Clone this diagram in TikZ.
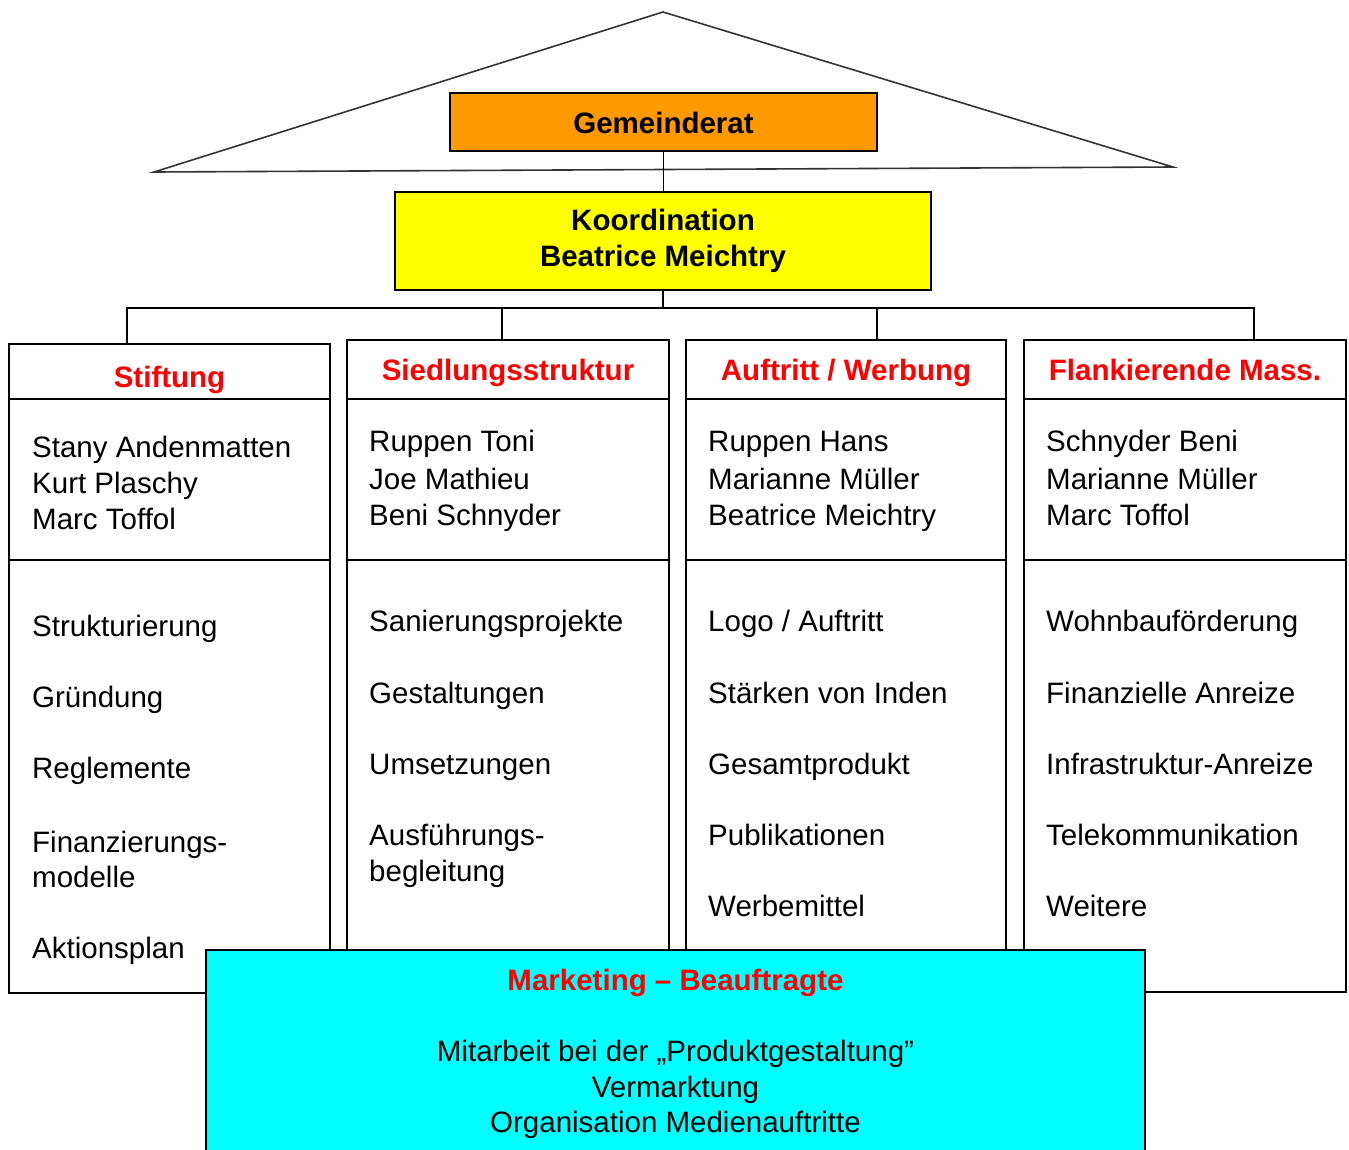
\documentclass[tikz,border=0pt]{standalone}
\usepackage{fontspec}
\setmainfont{Liberation Sans}
\definecolor{gorange}{HTML}{FF9900}
\definecolor{gyellow}{HTML}{FFFF00}
\definecolor{gcyan}{HTML}{00FFFF}
\definecolor{gred}{HTML}{FF0000}
\definecolor{roofgray}{HTML}{333333}
\tikzset{
  box/.style={draw=black, line width=1.6pt, inner sep=0pt},
  hdr/.style={box, font=\fontsize{29.5}{36}\selectfont\bfseries, text=gred},
  txt/.style={anchor=base west, inner sep=0pt, font=\fontsize{29.5}{36}\selectfont},
  ctxt/.style={anchor=base, inner sep=0pt, font=\fontsize{29.5}{36}\selectfont},
  conn/.style={draw=black, line width=1.6pt},
  roof/.style={draw=roofgray, line width=1.6pt, line join=miter}
}
\begin{document}
\begin{tikzpicture}[x=1pt,y=-1pt]
\useasboundingbox (0,0) rectangle (1349,1149);
\fill[white] (0,0) rectangle (1349,1149);

% roof
\draw[roof] (154,172) -- (663,12) -- (1173,167) -- cycle;

% top boxes
\node[box, fill=gorange, minimum width=427pt, minimum height=58pt,
      font=\fontsize{29.5}{36}\selectfont\bfseries] (gr) at (663.5,122) {\raisebox{-11.5pt}[0pt][0pt]{Gemeinderat}};
\node[box, fill=gyellow, minimum width=536pt, minimum height=98pt, align=center,
      font=\fontsize{29.5}{36}\selectfont\bfseries] (ko) at (663,241) {Koordination\\Beatrice Meichtry};
\draw[conn] (gr.south) -- (gr.south |- ko.north);

% columns: header, people, tasks
\node[hdr, minimum width=321pt, minimum height=55pt] (h1) at (169.5,371.5) {\raisebox{-16pt}[0pt][0pt]{Stiftung}};
\node[box, minimum width=321pt, minimum height=161pt] (p1) at (169.5,479.5) {};
\node[box, minimum width=321pt, minimum height=433pt] (k1) at (169.5,776.5) {};

\node[hdr, minimum width=322pt, minimum height=59pt] (h2) at (508,369.5) {\raisebox{-11pt}[0pt][0pt]{Siedlungsstruktur}};
\node[box, minimum width=322pt, minimum height=161pt] (p2) at (508,479.5) {};
\node[box, minimum width=322pt, minimum height=433pt] (k2) at (508,776.5) {};

\node[hdr, minimum width=320pt, minimum height=59pt] (h3) at (846,369.5) {\raisebox{-11pt}[0pt][0pt]{Auftritt / Werbung}};
\node[box, minimum width=320pt, minimum height=161pt] (p3) at (846,479.5) {};
\node[box, minimum width=320pt, minimum height=433pt] (k3) at (846,776.5) {};

\node[hdr, minimum width=322pt, minimum height=59pt] (h4) at (1185,369.5) {\raisebox{-11pt}[0pt][0pt]{Flankierende Mass.}};
\node[box, minimum width=322pt, minimum height=161pt] (p4) at (1185,479.5) {};
\node[box, minimum width=322pt, minimum height=432pt] (k4) at (1185,776) {};

% connectors from Koordination
\coordinate (bus) at (663,308);
\coordinate (t1) at (127,344);
\coordinate (t2) at (502,340);
\coordinate (t3) at (877,340);
\coordinate (t4) at (1254,340);
\draw[conn] (ko.south) -- (bus);
\draw[conn] (bus) -| (t1);
\draw[conn] (bus) -| (t2);
\draw[conn] (bus) -| (t3);
\draw[conn] (bus) -| (t4);

% people
\node[txt] (a1) at (32,457) {Stany Andenmatten};
\node[txt] (a2) at (32,493) {Kurt Plaschy};
\node[txt] (a3) at (32,529) {Marc Toffol};
\node[txt] (b1) at (369,451) {Ruppen Toni};
\node[txt] (b2) at (369,489) {Joe Mathieu};
\node[txt] (b3) at (369,525) {Beni Schnyder};
\node[txt] (c1) at (708,451) {Ruppen Hans};
\node[txt] (c2) at (708,489) {Marianne Müller};
\node[txt] (c3) at (708,525) {Beatrice Meichtry};
\node[txt] (e1) at (1046,451) {Schnyder Beni};
\node[txt] (e2) at (1046,489) {Marianne Müller};
\node[txt] (e3) at (1046,525) {Marc Toffol};

% tasks
\node[txt] (s1) at (32,636) {Strukturierung};
\node[txt] (s2) at (32,707) {Gründung};
\node[txt] (s3) at (32,778) {Reglemente};
\node[txt] (s4) at (32,852) {Finanzierungs-};
\node[txt] (s5) at (32,887) {modelle};
\node[txt] (s6) at (32,958) {Aktionsplan};

\node[txt] (u1) at (369,631) {Sanierungsprojekte};
\node[txt] (u2) at (369,703) {Gestaltungen};
\node[txt] (u3) at (369,774) {Umsetzungen};
\node[txt] (u4) at (369,845) {Ausführungs-};
\node[txt] (u5) at (369,881) {begleitung};

\node[txt] (w1) at (708,631) {Logo / Auftritt};
\node[txt] (w2) at (708,703) {Stärken von Inden};
\node[txt] (w3) at (708,774) {Gesamtprodukt};
\node[txt] (w4) at (708,845) {Publikationen};
\node[txt] (w5) at (708,916) {Werbemittel};

\node[txt] (f1) at (1046,631) {Wohnbauförderung};
\node[txt] (f2) at (1046,703) {Finanzielle Anreize};
\node[txt] (f3) at (1046,774) {Infrastruktur-Anreize};
\node[txt] (f4) at (1046,845) {Telekommunikation};
\node[txt] (f5) at (1046,916) {Weitere};

% marketing box
\draw[box, fill=gcyan] (206,1165) -- (206,950) -- (1145,950) -- (1145,1165);
\node[ctxt, text=gred, font=\fontsize{29.5}{36}\selectfont\bfseries] (m0) at (675.5,990) {Marketing – Beauftragte};
\node[ctxt] (m1) at (675.5,1061) {Mitarbeit bei der „Produktgestaltung"};
\node[ctxt] (m2) at (675.5,1097) {Vermarktung};
\node[ctxt] (m3) at (675.5,1132) {Organisation Medienauftritte};
\end{tikzpicture}
\end{document}
